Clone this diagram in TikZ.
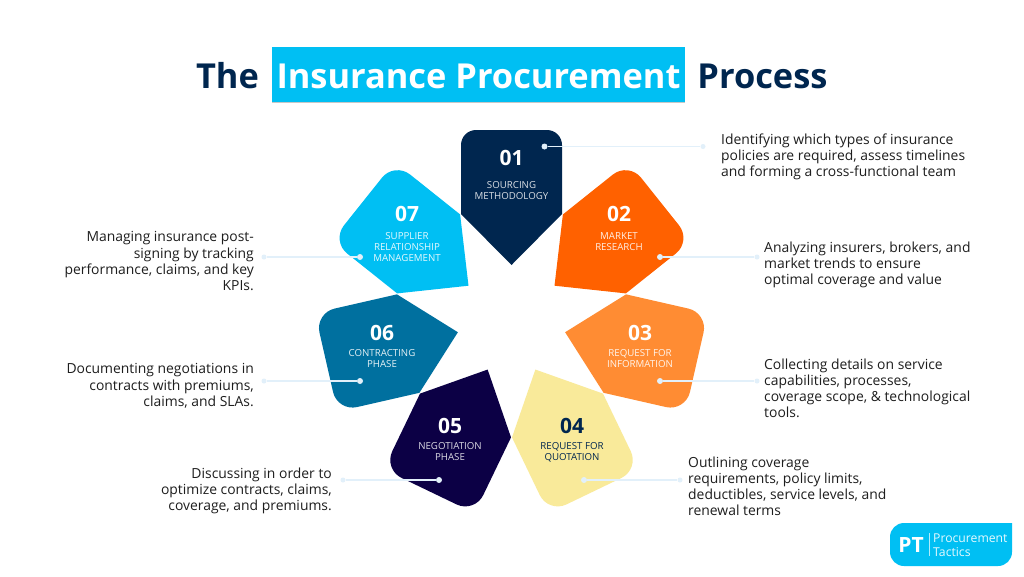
\documentclass[tikz,border=0pt]{standalone}
\usepackage{fontspec}
\setmainfont{Open Sans}
\definecolor{navy}{HTML}{00264F}
\definecolor{cyanb}{HTML}{00BFF3}
\definecolor{orA}{HTML}{FF6100}
\definecolor{orB}{HTML}{FF8C33}
\definecolor{yel}{HTML}{F9EA9A}
\definecolor{ind}{HTML}{0C0045}
\definecolor{teal}{HTML}{00709F}
\definecolor{pale}{HTML}{E2F0FA}
\definecolor{bodyt}{HTML}{1E1E1E}
\tikzset{
  titletext/.style={inner sep=0,anchor=base,font=\fontsize{34.4}{40}\selectfont\bfseries},
  num/.style={inner sep=0,anchor=base,font=\fontsize{21}{24}\selectfont\bfseries},
  lab/.style={inner sep=0,anchor=north,align=center,font=\fontsize{9.7}{11.2}\selectfont},
  descl/.style={inner sep=0,anchor=north west,align=left,text=bodyt,font=\fontsize{13.9}{16.1}\selectfont},
  descr/.style={inner sep=0,anchor=north east,align=right,text=bodyt,font=\fontsize{13.9}{16.1}\selectfont},
  dotA/.style={circle,fill=pale,inner sep=0,minimum size=6pt},
  dotB/.style={circle,fill=pale,inner sep=0,minimum size=5pt},
  lead/.style={draw=pale,line width=1.5pt}
}
\begin{document}
\begin{tikzpicture}[x=1pt,y=1pt]
\useasboundingbox (0,0) rectangle (1024,-576);
\fill[white] (0,0) rectangle (1024,-576);
% title
\fill[black!22] (272,-48) rectangle (685,-103);
\fill[cyanb] (272,-47) rectangle (685,-102);
\node[titletext,text=navy] (t1) at (227.5,-88) {The};
\node[titletext,text=white] (t2) at (478.5,-88) {Insurance Procurement};
\node[titletext,text=navy] (t3) at (762.5,-88) {Process};
% petals
\foreach \i/\c/\r in {0/navy/15,1/orA/20,2/orB/20,3/yel/20,4/ind/20,5/teal/20,6/cyanb/20}{
  \begin{scope}[shift={(511.5,-320)},rotate={-\i*360/7}]
    \fill[\c] (0,55) -- (50.5,106) -- (50.5,190-\r) arc[start angle=0,end angle=90,radius=\r]
      -- (-50.5+\r,190) arc[start angle=90,end angle=180,radius=\r] -- (-50.5,106) -- cycle;
  \end{scope}
}
% leader lines
\node[dotA] (a1) at (544.5,-146.5) {}; \node[dotB] (b1) at (703,-146.5) {};
\node[dotA] (a2) at (660,-257) {};     \node[dotB] (b2) at (757,-257) {};
\node[dotA] (a3) at (660,-381) {};     \node[dotB] (b3) at (757,-381) {};
\node[dotA] (a4) at (584,-480) {};     \node[dotB] (b4) at (680,-480) {};
\node[dotA] (a5) at (439,-480) {};     \node[dotB] (b5) at (343,-480) {};
\node[dotA] (a6) at (360,-381) {};     \node[dotB] (b6) at (264,-381) {};
\node[dotA] (a7) at (360,-257) {};     \node[dotB] (b7) at (264,-257) {};
\foreach \k in {1,...,7}{\draw[lead] (a\k) -- (b\k);}
% numbers and labels
\node[num,text=white] (n1) at (511.5,-165) {01};
\node[lab,text=white!85!navy] (l1) at (511.5,-181) {SOURCING\\METHODOLOGY};
\node[num,text=white] (n2) at (619,-221) {02};
\node[lab,text=white!90!orA] (l2) at (619,-232) {MARKET\\RESEARCH};
\node[num,text=white] (n3) at (640,-340) {03};
\node[lab,text=white!90!orB] (l3) at (640,-349) {REQUEST FOR\\INFORMATION};
\node[num,text=navy] (n4) at (572,-433) {04};
\node[lab,text=navy] (l4) at (572,-442) {REQUEST FOR\\QUOTATION};
\node[num,text=white] (n5) at (450,-433) {05};
\node[lab,text=white!85!ind] (l5) at (450,-442) {NEGOTIATION\\PHASE};
\node[num,text=white] (n6) at (382,-340) {06};
\node[lab,text=white!90!teal] (l6) at (382,-349) {CONTRACTING\\PHASE};
\node[num,text=white] (n7) at (407,-221) {07};
\node[lab,text=white!90!cyanb] (l7) at (407,-232) {SUPPLIER\\RELATIONSHIP\\MANAGEMENT};
% descriptions
\node[descl] (d1) at (721,-133.5) {Identifying which types of insurance\\policies are required, assess timelines\\and forming a cross-functional team};
\node[descl] (d2) at (764,-241.5) {Analyzing insurers, brokers, and\\market trends to ensure\\optimal coverage and value};
\node[descl] (d3) at (764,-358.5) {Collecting details on service\\capabilities, processes,\\coverage scope, \& technological\\tools.};
\node[descl] (d4) at (688,-456.5) {Outlining coverage\\requirements, policy limits,\\deductibles, service levels, and\\renewal terms};
\node[descr] (d7) at (254,-231.5) {Managing insurance post-\\signing by tracking\\performance, claims, and key\\KPIs.};
\node[descr] (d6) at (254,-363.5) {Documenting negotiations in\\contracts with premiums,\\claims, and SLAs.};
\node[descr] (d5) at (332,-467.5) {Discussing in order to\\optimize contracts, claims,\\coverage, and premiums.};
% logo
\fill[cyanb] (904,-523) -- (1012,-523) -- (1012,-552) arc[start angle=0,end angle=-90,radius=14]
  -- (904,-566) arc[start angle=270,end angle=180,radius=14] -- (890,-537) arc[start angle=180,end angle=90,radius=14] -- cycle;
\node[inner sep=0,anchor=base,text=white,font=\fontsize{21}{24}\selectfont\bfseries] (pt) at (911,-552) {PT};
\draw[white!70!cyanb,line width=0.6pt] (929,-533) -- (929,-556);
\node[inner sep=0,anchor=base west,text=white!90!cyanb,font=\fontsize{12.2}{14}\selectfont] (pr) at (933,-542) {Procurement};
\node[inner sep=0,anchor=base west,text=white!90!cyanb,font=\fontsize{12.2}{14}\selectfont] (ta) at (933,-556) {Tactics};
\end{tikzpicture}
\end{document}
